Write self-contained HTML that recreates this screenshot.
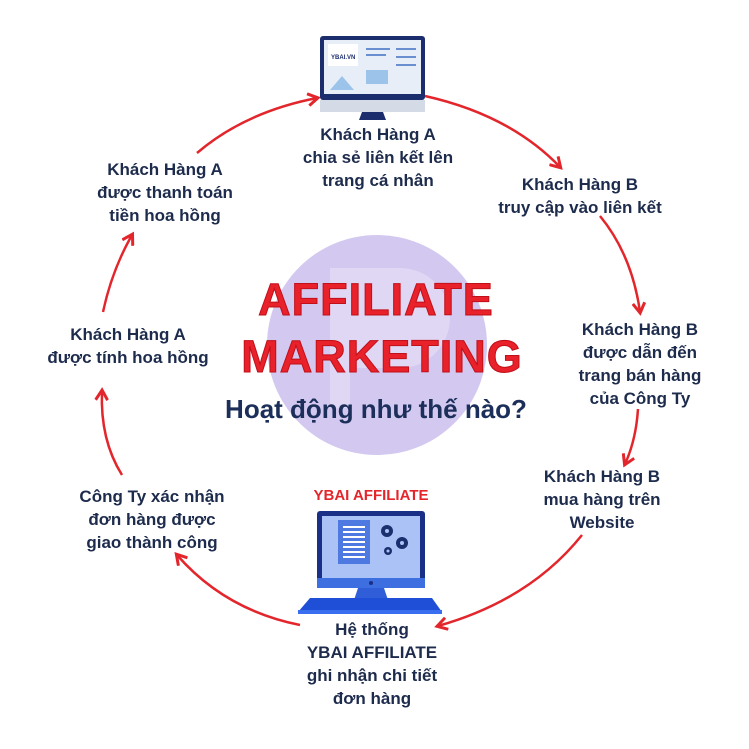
<!DOCTYPE html>
<html><head><meta charset="utf-8"><style>
body{margin:0;width:749px;height:749px;background:#fff;overflow:hidden;font-family:"Liberation Sans",sans-serif}
svg{position:absolute;left:0;top:0}
.l{position:absolute;transform:translateX(-50%);text-align:center;white-space:nowrap;font-weight:bold;font-size:17px;line-height:23px;color:#1d2b4c}
</style></head><body>
<svg width="749" height="749" viewBox="0 0 749 749">
<defs><marker id="a" markerWidth="14" markerHeight="14" refX="10" refY="7" orient="auto" markerUnits="userSpaceOnUse"><path d="M1,1 L11,7 L1,13" fill="none" stroke="#e3262c" stroke-width="3"/></marker></defs>
<circle cx="377" cy="345" r="110" fill="#d3c8ef"/>
<path d="M330 268 h70 a50 50 0 0 1 0 100 h-50 v40 h-20 z" fill="#e4ddf6" opacity="0.7"/>
<g fill="none" stroke="#e3262c" stroke-width="2.5" marker-end="url(#a)">
<path d="M197 153 Q245 112 317 98"/>
<path d="M425 96 Q510 115 560 167"/>
<path d="M600 216 Q632 255 640 312"/>
<path d="M638 409 Q636 440 625 464"/>
<path d="M582 535 Q530 600 438 626"/>
<path d="M300 625 Q225 610 177 555"/>
<path d="M122 475 Q100 440 102 391"/>
<path d="M103 312 Q112 270 132 235"/>
</g>
<rect x="320" y="36" width="105" height="64" rx="3" fill="#1c2d6e"/>
<rect x="324" y="40" width="97" height="54" fill="#e8eef8"/>
<rect x="328" y="44" width="30" height="22" fill="#fff"/>
<text x="331" y="59" font-size="6" font-weight="bold" fill="#1c2d6e" font-family="Liberation Sans">YBAI.VN</text>
<polygon points="330,90 342,76 354,90" fill="#9cc3ea"/>
<rect x="366" y="70" width="22" height="14" fill="#9cc3ea"/>
<rect x="366" y="48" width="24" height="2" fill="#6a8fd0"/><rect x="366" y="54" width="20" height="2" fill="#6a8fd0"/>
<rect x="396" y="48" width="20" height="2" fill="#6a8fd0"/><rect x="396" y="56" width="20" height="2" fill="#6a8fd0"/><rect x="396" y="64" width="20" height="2" fill="#6a8fd0"/>
<rect x="320" y="100" width="105" height="12" fill="#d5dbe6"/>
<polygon points="362,112 383,112 386,120 359,120" fill="#1c2d6e"/>
<rect x="317" y="511" width="108" height="75" rx="3" fill="#1a2f86"/>
<rect x="322" y="516" width="98" height="62" fill="#aac2f5"/>
<rect x="338" y="520" width="32" height="44" fill="#4d79e0"/>
<g fill="#fff"><rect x="343" y="526" width="22" height="2"/><rect x="343" y="531" width="22" height="2"/><rect x="343" y="536" width="22" height="2"/><rect x="343" y="541" width="22" height="2"/><rect x="343" y="546" width="22" height="2"/><rect x="343" y="551" width="22" height="2"/><rect x="343" y="556" width="22" height="2"/></g>
<g fill="#1a2f6e"><circle cx="387" cy="531" r="6"/><circle cx="402" cy="543" r="6"/><circle cx="388" cy="551" r="4"/></g>
<g fill="#aac2f5"><circle cx="387" cy="531" r="2"/><circle cx="402" cy="543" r="2"/><circle cx="388" cy="551" r="1.5"/></g>
<rect x="317" y="578" width="108" height="10" fill="#3d6fe0"/>
<circle cx="371" cy="583" r="2" fill="#1a2f86"/>
<polygon points="358,588 384,588 388,600 354,600" fill="#2f5ed8"/>
<polygon points="310,598 432,598 442,612 298,612" fill="#1f4fd6"/>
<rect x="298" y="610" width="144" height="4" fill="#3a6ef0"/>
</svg>
<div class="l" style="left:378px;top:123px">Khách Hàng A<br>chia sẻ liên kết lên<br>trang cá nhân</div>
<div class="l" style="left:165px;top:158px">Khách Hàng A<br>được thanh toán<br>tiền hoa hồng</div>
<div class="l" style="left:580px;top:173px">Khách Hàng B<br>truy cập vào liên kết</div>
<div class="l" style="left:128px;top:323px">Khách Hàng A<br>được tính hoa hồng</div>
<div class="l" style="left:640px;top:318px">Khách Hàng B<br>được dẫn đến<br>trang bán hàng<br>của Công Ty</div>
<div class="l" style="left:602px;top:465px">Khách Hàng B<br>mua hàng trên<br>Website</div>
<div class="l" style="left:152px;top:485px">Công Ty xác nhận<br>đơn hàng được<br>giao thành công</div>
<div class="l" style="left:372px;top:618px">Hệ thống<br>YBAI AFFILIATE<br>ghi nhận chi tiết<br>đơn hàng</div>
<div class="l" style="left:371px;top:487px;color:#e3262c;font-size:15px;line-height:18px">YBAI AFFILIATE</div>
<div class="l" style="left:376px;top:274px;color:#e8212a;font-size:45px;line-height:52px;font-weight:900;-webkit-text-stroke:1px #c0101a;letter-spacing:1px">AFFILIATE</div>
<div class="l" style="left:382px;top:331px;color:#e8212a;font-size:45px;line-height:52px;font-weight:900;-webkit-text-stroke:1px #c0101a;letter-spacing:1px">MARKETING</div>
<div class="l" style="left:376px;top:394px;color:#1b2f5a;font-size:26px;line-height:30px">Hoạt động như thế nào?</div>
</body></html>
